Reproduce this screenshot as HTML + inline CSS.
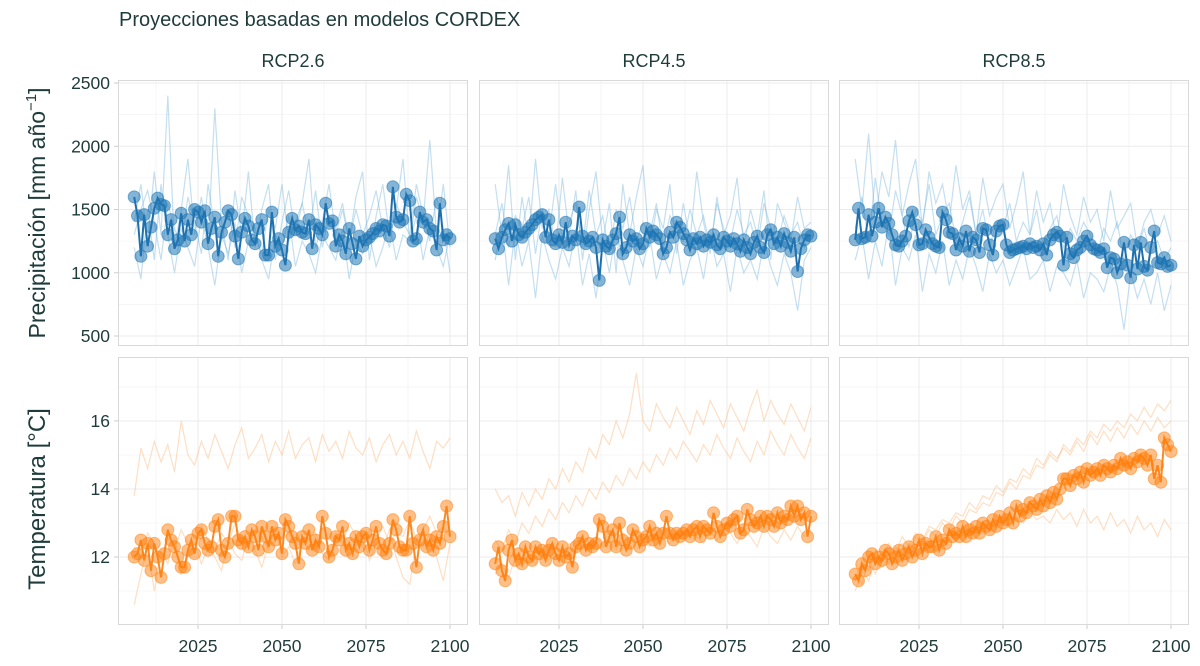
<!DOCTYPE html>
<html><head><meta charset="utf-8">
<style>
html,body{margin:0;padding:0;background:#fff;}
svg{display:block;font-family:"Liberation Sans",sans-serif;}
</style></head>
<body>
<svg id="chart" width="1200" height="666" viewBox="0 0 1200 666" xmlns="http://www.w3.org/2000/svg">
<text x="119" y="26" font-size="20" fill="#1f3b3b">Proyecciones basadas en modelos CORDEX</text>
<text transform="translate(45,213) rotate(-90)" text-anchor="middle" font-size="23" fill="#1f3b3b">Precipitación [mm  año<tspan dy="-9" font-size="15">−1</tspan><tspan dy="9">]</tspan></text>
<text transform="translate(45,499) rotate(-90)" text-anchor="middle" font-size="24" fill="#1f3b3b">Temperatura [°C]</text>
<g id="plots"></g>
</svg>
<script>
const scenarios = ["RCP2.6","RCP4.5","RCP8.5"];
const xTicks = [2025,2050,2075,2100];
const precipTicks = [500,1000,1500,2000,2500];
const tempTicks = [12,14,16];
const startYear = 2006;

const precipMean26 = [1600,1450,1130,1460,1210,1360,1510,1590,1540,1530,1300,1420,1190,1260,1470,1250,1420,1300,1500,1480,1400,1490,1230,1350,1440,1130,1320,1400,1490,1460,1290,1110,1320,1430,1370,1260,1230,1350,1420,1140,1140,1480,1210,1270,1180,1060,1320,1430,1340,1370,1320,1310,1420,1190,1380,1350,1300,1550,1390,1410,1210,1300,1250,1150,1350,1230,1110,1290,1210,1260,1280,1310,1350,1330,1380,1370,1290,1680,1440,1400,1420,1620,1570,1250,1270,1480,1400,1420,1350,1330,1180,1550,1260,1300,1270];
const precipMean45 = [1270,1190,1280,1340,1390,1250,1380,1300,1280,1320,1350,1380,1420,1440,1460,1280,1420,1260,1230,1300,1240,1400,1220,1290,1260,1520,1290,1230,1250,1280,1200,940,1260,1210,1190,1260,1310,1440,1150,1200,1300,1250,1270,1190,1230,1350,1280,1330,1300,1270,1150,1200,1320,1280,1400,1360,1310,1260,1180,1270,1230,1280,1210,1260,1240,1300,1220,1190,1280,1250,1210,1270,1230,1170,1260,1200,1150,1240,1290,1200,1160,1300,1340,1230,1280,1210,1310,1240,1170,1280,1010,1190,1260,1300,1290];
const precipMean85 = [1260,1510,1270,1280,1460,1290,1400,1510,1360,1440,1390,1300,1220,1210,1250,1290,1410,1480,1380,1220,1230,1340,1280,1230,1210,1200,1480,1420,1320,1310,1180,1270,1210,1330,1170,1280,1260,1160,1350,1340,1220,1140,1330,1370,1380,1220,1160,1180,1190,1200,1210,1190,1230,1200,1210,1180,1230,1140,1260,1300,1320,1290,1060,1280,1150,1120,1180,1200,1250,1290,1220,1190,1180,1160,1190,1040,1120,1110,1000,1070,1240,1060,960,1220,1030,1240,1050,1020,1200,1330,1080,1070,1120,1050,1060];
const tempMean26 = [12.0,12.1,12.5,11.9,12.4,11.6,12.4,12.0,11.4,12.1,12.8,12.5,12.3,12.0,11.7,11.7,12.2,12.5,12.1,12.7,12.8,12.4,12.2,12.3,12.9,13.1,12.2,12.0,12.4,13.2,13.2,12.5,12.4,12.6,12.3,12.8,12.6,12.2,12.9,12.6,12.3,12.9,12.5,12.7,12.1,13.1,12.9,12.6,12.4,11.8,12.6,12.4,12.8,12.2,12.5,12.3,13.2,12.7,12.0,12.2,12.6,12.5,12.9,12.2,12.4,12.1,12.6,12.3,12.6,12.7,12.2,12.5,12.9,12.4,12.2,12.1,12.4,13.1,12.8,12.3,12.2,12.2,13.2,12.4,11.7,12.5,12.8,12.3,12.5,12.2,12.6,12.4,12.9,13.5,12.6];
const tempMean45 = [11.8,12.3,11.6,11.3,12.2,12.5,11.9,12.1,11.8,12.3,12.0,11.9,12.3,12.1,12.2,11.9,12.2,12.4,12.1,11.9,12.3,12.0,12.1,11.7,12.3,12.4,12.6,12.2,12.4,12.3,12.4,13.1,12.9,12.3,12.6,12.8,12.3,13.0,12.5,12.2,12.4,12.8,12.6,12.3,12.5,12.6,12.9,12.5,12.7,12.4,12.7,13.2,12.7,12.5,12.7,12.6,12.7,12.8,12.6,12.8,12.9,12.6,12.9,12.8,12.7,13.3,12.9,12.6,12.8,13.0,12.9,13.1,13.2,12.7,12.8,13.4,13.1,12.9,13.0,13.2,12.9,13.2,13.1,12.9,13.3,13.0,13.2,13.1,13.5,13.2,13.5,13.1,13.3,12.6,13.2];
const tempMean85 = [11.5,11.3,11.8,11.6,12.0,12.1,11.8,12.0,11.9,12.2,12.1,11.8,12.0,12.2,11.9,12.1,12.3,12.0,12.2,12.5,12.1,12.4,12.3,12.3,12.6,12.2,12.5,12.4,12.8,12.6,12.7,12.6,12.9,12.6,12.8,12.7,12.9,12.7,13.0,12.9,12.8,13.1,12.9,13.2,13.0,13.1,13.3,13.0,13.5,13.2,13.4,13.3,13.6,13.5,13.4,13.7,13.5,13.8,13.6,13.9,13.7,14.0,14.3,14.3,14.1,14.4,14.3,14.5,14.2,14.6,14.4,14.5,14.6,14.4,14.7,14.6,14.5,14.7,14.6,14.9,14.7,14.8,14.6,14.9,14.8,15.0,14.9,14.7,15.0,14.3,14.7,14.2,15.5,15.3,15.1];

const ensStep = 2;
const precipEns26 = [
[1400,1700,1250,1800,1300,2400,1200,1500,1900,1300,1600,1250,2300,1400,1100,1650,1300,1800,1200,1500,1700,1100,1400,1650,1300,1550,1900,1200,1400,1700,1300,1500,1250,1600,1800,1100,1450,1700,1300,1500,1900,1250,1600,1400,2050,1300,1700,1200],
[1200,950,1500,1100,1700,1300,1000,1350,1200,1050,1450,1200,900,1300,1150,1400,1000,1250,1350,1100,950,1300,1200,1450,1050,1250,1150,1000,1300,1200,1100,1350,950,1250,1150,1300,1050,1200,1400,1100,1300,1250,1450,1100,1350,1200,1050,1300],
[1300,1500,1650,1400,1100,1550,1350,1200,1600,1400,1150,1700,1350,1250,1500,1200,1600,1450,1300,1150,1500,1350,1700,1250,1400,1550,1300,1650,1200,1450,1350,1550,1250,1500,1300,1450,1650,1350,1200,1550,1400,1300,1700,1450,1250,1600,1350,1000]];
const precipEns45 = [
[1700,1300,1850,1100,1600,1250,1900,1350,1500,1200,1750,1300,1650,1100,1500,1800,1250,1550,1000,1700,1300,1600,1850,1200,1500,1350,1700,1150,1550,1250,1800,1400,1150,1600,1300,1450,1750,1200,1500,1300,1650,1100,1550,1400,1250,1600,1350,1400],
[1100,1400,900,1350,1050,1250,800,1300,1100,950,1200,1050,1350,900,1150,800,1250,1000,1350,1100,900,1200,1050,1300,950,1150,1000,1250,900,1100,1200,950,1300,1050,1150,850,1200,1000,1100,950,1250,1050,900,1150,1000,700,1100,1200],
[1300,1550,1200,1450,1350,1600,1150,1500,1300,1700,1250,1400,1550,1200,1650,1300,1450,1150,1500,1350,1600,1250,1400,1300,1550,1200,1450,1350,1250,1500,1300,1450,1200,1550,1350,1250,1500,1300,1400,1200,1550,1350,1250,1450,1300,1400,1200,1350]];
const precipEns85 = [
[1900,1500,2100,1400,1800,1600,2050,1450,1700,1900,1350,1800,1550,1700,1400,1850,1500,1650,1300,1750,1450,1600,1700,1350,1550,1800,1300,1650,1400,1550,1250,1700,1450,1300,1600,1400,1500,1250,1650,1350,1450,1550,1200,1400,1500,1300,1450,1250],
[1100,1300,950,1250,1050,1400,900,1200,1100,1300,850,1150,1000,1250,900,1100,950,1200,1050,850,1150,1000,1100,900,1050,1200,950,1000,1100,850,1050,1000,900,1100,800,1000,950,850,1050,900,550,1000,800,950,750,1000,700,900],
[1350,1600,1250,1750,1400,1300,1650,1450,1200,1500,1400,1700,1300,1450,1550,1250,1400,1600,1300,1500,1200,1400,1350,1550,1250,1400,1300,1500,1200,1350,1450,1200,1350,1250,1400,1300,1150,1350,1250,1400,1100,1300,1200,1350,1150,1250,1100,1200]];
const tempEns26 = [
[13.8,15.2,14.6,15.4,14.8,15.3,14.5,16.0,15.0,14.7,15.4,14.9,15.6,15.1,14.6,15.3,15.8,14.9,15.2,15.6,14.8,15.4,15.0,15.7,14.9,15.3,15.5,14.8,15.6,15.1,15.4,14.9,15.7,15.2,15.0,15.5,14.8,15.3,15.6,15.0,15.4,14.9,15.7,15.1,14.6,15.4,15.2,15.5],
[10.6,11.5,12.3,11.0,12.2,11.8,12.6,11.5,12.0,12.4,11.8,12.3,12.0,11.6,12.5,12.1,11.9,12.6,12.2,11.7,12.4,12.8,12.0,12.3,11.8,12.5,12.2,12.7,12.1,11.9,12.4,12.6,12.0,12.3,12.7,11.9,12.4,12.2,12.8,12.0,11.4,11.2,12.5,12.3,12.7,12.0,11.3,12.4],
[12.3,12.0,12.7,12.4,11.9,12.6,12.2,12.8,12.4,12.1,12.9,12.5,12.2,12.7,12.4,13.0,12.5,12.3,12.8,12.6,12.2,12.9,12.5,12.7,12.3,12.8,12.6,12.2,12.9,12.5,12.7,12.4,13.0,12.6,12.3,12.8,12.5,12.9,12.4,12.7,12.6,13.1,12.5,12.8,13.2,12.7,12.9,12.6]];
const tempEns45 = [
[14.0,13.6,13.8,13.2,13.9,13.5,14.0,13.7,14.3,14.0,14.6,14.2,14.8,14.5,15.2,14.9,15.6,15.3,16.0,15.5,16.2,17.4,16.0,15.7,16.5,16.1,15.8,16.4,16.0,15.6,16.3,15.9,16.6,16.2,15.8,16.5,16.1,15.7,16.4,16.9,16.0,16.6,16.2,15.9,16.5,16.1,15.7,16.4],
[12.5,12.2,12.8,12.4,13.0,12.7,13.2,12.9,13.4,13.1,13.6,13.3,13.8,13.5,14.0,13.7,14.2,13.9,14.4,14.1,14.6,14.3,14.8,14.5,15.0,14.7,15.2,14.9,15.4,15.1,14.8,15.3,15.0,15.6,15.2,14.9,15.5,15.1,14.8,15.4,15.0,15.7,15.3,15.0,15.6,15.2,14.9,15.5],
[11.5,11.8,11.4,12.0,11.7,12.1,11.8,12.2,11.9,12.3,12.0,12.4,12.1,12.5,12.2,12.6,12.3,12.5,12.2,12.7,12.4,12.8,12.5,12.3,12.9,12.6,12.4,12.8,12.5,12.9,12.6,12.4,12.8,12.5,12.9,12.7,12.4,12.8,12.6,12.3,12.9,12.6,12.4,12.8,12.5,12.9,12.6,12.8]];
const tempEns85 = [
[11.0,11.6,11.3,11.9,11.7,12.0,12.2,12.4,12.1,12.6,12.4,12.8,12.6,13.0,12.8,13.2,13.0,13.4,13.3,13.6,13.5,13.9,13.8,14.2,14.0,14.4,14.3,14.7,14.6,15.0,14.8,15.3,15.1,15.5,15.3,15.7,15.5,15.9,15.7,16.0,15.8,16.2,16.0,16.4,16.1,16.5,16.3,16.6],
[11.8,11.2,11.9,11.5,12.1,11.8,12.3,12.0,12.4,12.2,12.5,12.3,12.6,12.4,12.7,12.5,12.8,12.6,12.9,12.7,13.0,12.8,13.1,12.9,13.2,13.0,13.3,13.1,13.2,13.0,13.4,13.1,13.3,12.9,13.4,13.0,13.2,12.8,13.3,12.9,13.1,12.7,13.2,12.8,13.0,12.6,13.1,12.8],
[11.3,11.9,11.6,12.2,11.9,12.4,12.1,12.6,12.3,12.7,12.5,12.9,12.8,13.1,13.0,13.3,13.2,13.6,13.4,13.8,13.7,14.1,13.9,14.3,14.2,14.6,14.4,14.9,14.7,15.1,14.9,15.2,15.0,15.4,15.1,15.6,15.3,15.7,15.4,15.8,15.5,15.9,15.6,16.0,15.7,16.1,15.8,16.0]];

const NS = "http://www.w3.org/2000/svg";
const root = document.getElementById("plots");
const panelX = [118, 479, 839];
const panelW = 350;
const rows = [
  {top:80, bottom:346, dmin:421, dmax:2524, ticks:precipTicks, minor:[750,1250,1750,2250],
   means:[precipMean26,precipMean45,precipMean85], ens:[precipEns26,precipEns45,precipEns85],
   line:"#1f6fad", fill:"rgba(31,119,180,0.55)", ensColor:"rgba(107,174,214,0.4)", key:"precip"},
  {top:357, bottom:625, dmin:10, dmax:17.88, ticks:tempTicks, minor:[11,13,15,17],
   means:[tempMean26,tempMean45,tempMean85], ens:[tempEns26,tempEns45,tempEns85],
   line:"#f98a25", fill:"rgba(255,127,14,0.5)", ensColor:"rgba(253,174,107,0.4)", key:"temp"}
];
function mk(tag, attrs, parent){
  const e = document.createElementNS(NS, tag);
  for (const k in attrs) e.setAttribute(k, attrs[k]);
  (parent||root).appendChild(e);
  return e;
}
function xScale(p, year){ return panelX[p] + 80 + (year-2025)*(84/25); }

rows.forEach((row, r) => {
  const yScale = v => row.bottom - (v-row.dmin)/(row.dmax-row.dmin)*(row.bottom-row.top);
  scenarios.forEach((sc, p) => {
    const g = mk("g", {});
    
    
    const x0 = panelX[p], x1 = x0 + panelW;
    [2012.5,2037.5,2062.5,2087.5].forEach(yr => {
      const l = mk("line", {x1:xScale(p,yr), x2:xScale(p,yr), y1:row.top, y2:row.bottom, stroke:"#f4f4f4", "stroke-width":0.8}, g);
      
      
    });
    row.minor.forEach(v => {
      const y = yScale(v);
      if (y < row.top || y > row.bottom) return;
      const l = mk("line", {x1:x0, x2:x1, y1:y, y2:y, stroke:"#f4f4f4", "stroke-width":0.8}, g);
      
      
    });
    xTicks.forEach(yr => {
      const l = mk("line", {x1:xScale(p,yr), x2:xScale(p,yr), y1:row.top, y2:row.bottom, stroke:"#ebebeb", "stroke-width":1}, g);
      
      
    });
    row.ticks.forEach(v => {
      const y = yScale(v);
      const l = mk("line", {x1:x0, x2:x1, y1:y, y2:y, stroke:"#ebebeb", "stroke-width":1}, g);
      
      
    });
    row.ens[p].forEach((s, k) => {
      const pts = s.map((v,i) => xScale(p, startYear + i*ensStep).toFixed(1) + "," + yScale(v).toFixed(1)).join(" ");
      const pl = mk("polyline", {points:pts, fill:"none", stroke:row.ensColor, "stroke-width":1.2}, g);
      
      
    });
    const mean = row.means[p];
    const pts = mean.map((v,i) => xScale(p, startYear+i).toFixed(1) + "," + yScale(v).toFixed(1)).join(" ");
    const ml = mk("polyline", {points:pts, fill:"none", stroke:row.line, "stroke-width":2}, g);
    
    
    mean.forEach((v,i) => {
      const c = mk("circle", {cx:xScale(p,startYear+i).toFixed(1), cy:yScale(v).toFixed(1), r:6, fill:row.fill, stroke:row.fill, "stroke-width":1}, g);
      
      
    });
    const b = mk("rect", {x:x0+0.5, y:row.top+0.5, width:panelW-1, height:row.bottom-row.top-1, fill:"none", stroke:"#d9d9d9", "stroke-width":1}, g);
    
    
    if (r === 0) {
      const t = mk("text", {x:x0+panelW/2, y:67, "text-anchor":"middle", "font-size":18, fill:"#1f3b3b"});
      t.textContent = sc;
      
      
    }
    if (p === 0) {
      row.ticks.forEach(v => {
        const y = yScale(v);
        const tk = mk("line", {x1:x0-4, x2:x0, y1:y, y2:y, stroke:"#cccccc"});
        
        
        const t = mk("text", {x:x0-8, y:y+6, "text-anchor":"end", "font-size":17.5, fill:"#1f3b3b"});
        t.textContent = v;
        
        
      });
    }
    if (r === 1) {
      xTicks.forEach(yr => {
        const x = xScale(p, yr);
        const tk = mk("line", {x1:x, x2:x, y1:row.bottom, y2:row.bottom+4, stroke:"#cccccc"});
        
        
        const t = mk("text", {x:x, y:652, "text-anchor":"middle", "font-size":17.5, fill:"#1f3b3b"});
        t.textContent = yr;
        
        
      });
    }
  });
});
</script>
</body></html>
